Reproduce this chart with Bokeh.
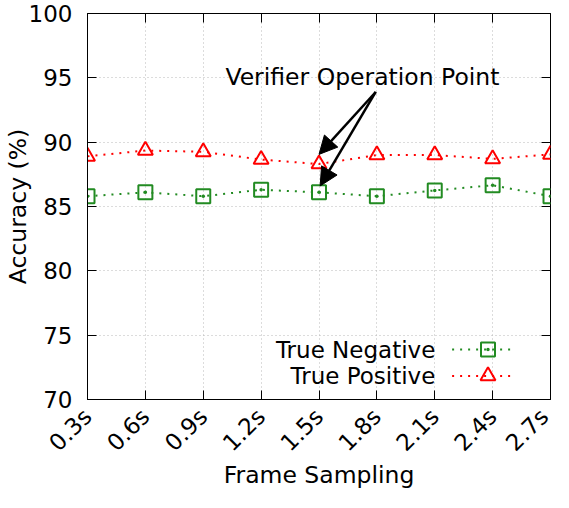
import math
from bokeh.plotting import figure
from bokeh.models import (FixedTicker, LinearAxis, Range1d, Label, Arrow, NormalHead,
                          ColumnDataSource)
from bokeh.embed import file_html
from bokeh.resources import INLINE

# ---- data ----
frame_labels = ["0.3s", "0.6s", "0.9s", "1.2s", "1.5s", "1.8s", "2.1s", "2.4s", "2.7s"]
true_negative = [85.8, 86.1, 85.8, 86.3, 86.1, 85.8, 86.25, 86.65, 85.8]
true_positive = [88.9, 89.35, 89.25, 88.65, 88.3, 89.0, 89.0, 88.7, 89.05]
y_ticks = [70, 75, 80, 85, 90, 95, 100]
series_names = ["True Negative", "True Positive"]
annotation_text = "Verifier Operation Point"

xs = list(range(len(frame_labels)))
FONT = "DejaVu Sans"
FS = "23px"
FS_BIG = "23.5px"
GREEN = "#228b22"
RED = "#ff0000"

p = figure(width=553, height=492, output_backend="svg", toolbar_location=None,
           x_range=Range1d(0, len(frame_labels) - 1), y_range=Range1d(70, 100),
           min_border_left=83, min_border_right=3, min_border_top=13, min_border_bottom=92)
p.outline_line_color = "black"
p.outline_line_width = 1
p.background_fill_color = "white"

# axes
xax = p.xaxis[0]
xax.ticker = FixedTicker(ticks=xs)
xax.major_label_overrides = {i: lab for i, lab in zip(xs, frame_labels)}
xax.major_label_orientation = math.pi / 4
yax = p.yaxis[0]
yax.ticker = FixedTicker(ticks=y_ticks)
for ax in (xax, yax):
    ax.major_tick_in = 9
    ax.major_tick_out = 0
    ax.minor_tick_in = 0
    ax.minor_tick_out = 0
    ax.axis_line_color = "black"
    ax.major_tick_line_color = "black"
    ax.major_label_text_font = FONT
    ax.major_label_text_font_size = FS
    ax.major_label_text_color = "black"
    ax.axis_label_text_font = FONT
    ax.axis_label_text_font_size = FS_BIG
    ax.axis_label_text_font_style = "normal"
    ax.axis_label_text_color = "black"
xax.axis_label = "Frame Sampling"
yax.axis_label = "Accuracy (%)"
xax.major_label_standoff = 13
yax.major_label_standoff = 15
yax.axis_label_standoff = -6
xax.axis_label_standoff = -7

# mirror axes (ticks only, empty labels)
top = LinearAxis(ticker=FixedTicker(ticks=xs),
                 major_label_overrides={i: "" for i in xs})
right = LinearAxis(ticker=FixedTicker(ticks=y_ticks),
                   major_label_overrides={v: "" for v in y_ticks})
for ax in (top, right):
    ax.major_tick_in = 9
    ax.major_tick_out = 0
    ax.minor_tick_in = 0
    ax.minor_tick_out = 0
    ax.major_label_text_font_size = "1px"
    ax.major_label_standoff = 0
    ax.axis_line_color = None
    ax.major_tick_line_color = "black"
p.add_layout(top, "above")
p.add_layout(right, "right")

# grid
for g in (p.xgrid[0], p.ygrid[0]):
    g.grid_line_color = "#b8b8b8"
    g.grid_line_dash = "1 3"
    g.grid_line_width = 1
p.xgrid[0].ticker = FixedTicker(ticks=xs)
p.ygrid[0].ticker = FixedTicker(ticks=y_ticks)

src = ColumnDataSource(dict(x=xs, tn=true_negative, tp=true_positive))
p.line("x", "tn", source=src, line_color=GREEN, line_width=2, line_dash="2 6")
p.line("x", "tp", source=src, line_color=RED, line_width=2, line_dash="2 6")
p.scatter("x", "tn", source=src, marker="square_dot", size=14, fill_color=None,
          line_color=GREEN, line_width=2)
p.scatter("x", "tp", source=src, marker="triangle", size=15, fill_color=None,
          line_color=RED, line_width=2)

# annotation with arrows
ann_x, ann_y = 4.75, 95.05
arrow_start = (4.98, 93.9)
arrow_targets = [(4.0, 89.05), (4.02, 86.6)]
p.add_layout(Label(x=ann_x, y=ann_y, text=annotation_text, text_font=FONT, text_font_size=FS_BIG,
                   text_align="center", text_baseline="middle", text_color="black"))
for tx, ty in arrow_targets:
    p.add_layout(Arrow(end=NormalHead(size=18, fill_color="black", line_color="black"),
                       x_start=arrow_start[0], y_start=arrow_start[1], x_end=tx, y_end=ty,
                       line_color="black", line_width=2.5))

# manual legend (gnuplot style: label, then sample)
leg_text_x = 6.01
leg_rows_y = [73.88, 71.83]
leg_line = (6.30, 7.36)
leg_marker_x = 6.92
for name, yy, col, mk, sz in zip(series_names, leg_rows_y, [GREEN, RED],
                                  ["square_dot", "triangle"], [14, 15]):
    p.add_layout(Label(x=leg_text_x, y=yy, text=name, text_font=FONT, text_font_size=FS,
                       text_align="right", text_baseline="middle", text_color="black"))
    p.line(x=list(leg_line), y=[yy, yy], line_color=col, line_width=2, line_dash="2 6")
    p.scatter(x=[leg_marker_x], y=[yy], marker=mk, size=sz, fill_color=None,
              line_color=col, line_width=2)

open("out.html", "w").write(file_html(p, INLINE))
